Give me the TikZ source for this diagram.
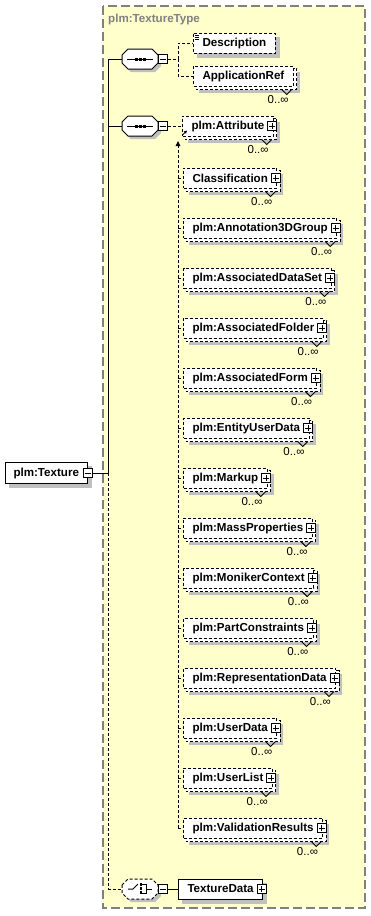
\documentclass[tikz,border=0pt]{standalone}
\usepackage{fontspec}
\setmainfont{Liberation Sans}
\usetikzlibrary{calc,arrows.meta}
\pgfdeclarelayer{yl}\pgfdeclarelayer{sh}\pgfdeclarelayer{bk}
\pgfsetlayers{yl,sh,bk,main}
\definecolor{ybg}{HTML}{FFFFCC}
\definecolor{shd}{HTML}{C0C0C0}
\definecolor{brd}{HTML}{808080}
\tikzset{
  lw/.style={line width=1pt},
  dsh/.style={dash pattern=on 3pt off 2pt},
  elbox/.style={draw, fill=white, line width=1pt, inner xsep=9pt, inner ysep=0pt,
    minimum height=20pt, anchor=west, font=\fontsize{11.6}{13}\selectfont\bfseries},
  optbox/.style={elbox, dsh},
  pmbox/.style={draw, fill=white, line width=1pt, minimum size=9pt, inner sep=0pt},
  occ/.style={font=\fontsize{11.5}{13}\selectfont, anchor=east, inner sep=0pt},
  octnode/.style={inner sep=0pt, minimum width=36pt, minimum height=20pt},
}
% plus / minus icons
\newcommand\plusicon[2]{% name, position
  \node[pmbox] (#1) at (#2) {};
  \draw[line width=1pt] ($(#1.center)+(-3,0)$) -- ($(#1.center)+(3,0)$)
                          ($(#1.center)+(0,-3)$) -- ($(#1.center)+(0,3)$);
}
\newcommand\minusicon[2]{%
  \node[pmbox] (#1) at (#2) {};
  \draw[line width=1pt] ($(#1.center)+(-3,0)$) -- ($(#1.center)+(3,0)$);
}
% multiple (0..unbounded) element
\newcommand\multiel[4]{% name, x, y, text
  \node[optbox] (#1) at (#2,#3) {#4};
  \begin{pgfonlayer}{bk}
    \draw[lw, dsh, fill=white] ($(#1.north west)+(3,3)$) rectangle ($(#1.south east)+(3,3)$);
    \draw[line width=0.9pt] ($(#1.south east)+(-12,3)$) -- ++(5,5) -- ++(5,-5);
  \end{pgfonlayer}
  \begin{pgfonlayer}{sh}
    \fill[shd] ($(#1.north west)+(6,6)$) rectangle ($(#1.south east)+(6,6)$);
  \end{pgfonlayer}
  \node[occ] at ($(#1.east)+(-5,24)$) {0..∞};
}
\newcommand\refel[3]{% name, y, text
  \multiel{#1}{183}{#2}{#3\hspace{6pt}}
  \plusicon{#1p}{$(#1.east)+(-1.5,0)$}
  \draw[lw, dsh] (j2b |- #1.west) -- (#1.west);
}
\newcommand\octshape[3]{% cx, cy, style
  \begin{pgfonlayer}{sh}
    \fill[shd] ({#1-15},{#2-1}) -- ++(6,-6) -- ++(24,0) -- ++(6,6) -- ++(0,8)
      -- ++(-6,6) -- ++(-24,0) -- ++(-6,-6) -- cycle;
  \end{pgfonlayer}
  \draw[lw, fill=white, #3] ({#1-18},{#2-4}) -- ++(6,-6) -- ++(24,0) -- ++(6,6) -- ++(0,8)
      -- ++(-6,6) -- ++(-24,0) -- ++(-6,-6) -- cycle;
}
\begin{document}
\begin{tikzpicture}[x=1pt,y=-1pt]
\useasboundingbox (0,0) rectangle (371,916);
% complex type area
\begin{pgfonlayer}{yl}
  \draw[brd, fill=ybg, line width=1.2pt, dash pattern=on 9pt off 4pt] (103,6) rectangle (365,908);
\end{pgfonlayer}
\node[anchor=west, text=brd, font=\fontsize{11.6}{13}\selectfont\bfseries, inner sep=0pt] (ttl) at (108,19) {plm:TextureType};

% root
\node[elbox, inner xsep=8pt, minimum height=21pt] (root) at (5,473) {plm:Texture\hspace{8pt}};
\begin{pgfonlayer}{sh}
  \fill[shd] ($(root.north west)+(4,4)$) rectangle ($(root.south east)+(4,4)$);
\end{pgfonlayer}
\minusicon{rootm}{root.east}

% bus
\coordinate (busT) at (108,59);
\coordinate (bus2) at (108,126);
\coordinate (busR) at (108,473);
\coordinate (busB) at (108,889);
\draw[lw] (rootm.east) -- (busR);
\draw[lw] (busT) -- (busR);
\draw[lw, dsh] (busR) -- (busB);

% sequence 1
\node[octnode] (s1) at (140,59) {};
\octshape{140}{59}{}
\draw[lw] (127,59) -- (153,59);
\foreach \xx in {136,140,144} \fill ({\xx-1.5},57.5) rectangle ++(3,3);
\minusicon{s1m}{163,59}
\draw[lw] (busT) -- (s1.west);
\coordinate (j1) at (178,59);
\draw[lw, dsh] (s1m.east) -- (j1);

\node[optbox] (desc) at (193,43) {Description};
\begin{pgfonlayer}{sh}
  \fill[shd] ($(desc.north west)+(4,4)$) rectangle ($(desc.south east)+(4,4)$);
\end{pgfonlayer}
\draw[line width=0.8pt] (195,35) -- (199,35) (195,37) -- (199,37) (195,39) -- (199,39);
\multiel{app}{193}{76}{ApplicationRef}
\draw[lw, dsh] (j1) |- (desc.west);
\draw[lw, dsh] (j1) |- (app.west);

% sequence 2
\node[octnode] (s2) at (140,126) {};
\octshape{140}{126}{}
\draw[lw] (127,126) -- (153,126);
\foreach \xx in {136,140,144} \fill ({\xx-1.5},124.5) rectangle ++(3,3);
\minusicon{s2m}{163,126}
\draw[lw] (bus2) -- (s2.west);
\coordinate (j2t) at (178,141);
\coordinate (j2b) at (178,828);
\draw[lw, dsh, -{Triangle[width=4.5pt,length=5pt]}] (j2b) -- (j2t);

\multiel{attr}{182}{126}{plm:Attribute\hspace{4pt}}
\plusicon{attrp}{$(attr.east)+(-1.5,0)$}
\draw[lw, dsh] (s2m.east) -- (attr.west);
\draw[line width=0.9pt, -{Triangle[width=3pt,length=3pt]}] ($(attr.south west)+(1,-2)$) -- ++(4,-4);

\refel{cls}{178}{Classification}
\refel{ann}{228}{plm:Annotation3DGroup}
\refel{ads}{278}{plm:AssociatedDataSet}
\refel{afd}{328}{plm:AssociatedFolder}
\refel{afm}{378}{plm:AssociatedForm}
\refel{eud}{428}{plm:EntityUserData}
\refel{mku}{478}{plm:Markup}
\refel{msp}{528}{plm:MassProperties}
\refel{mnc}{578}{plm:MonikerContext}
\refel{ptc}{628}{plm:PartConstraints}
\refel{rpd}{678}{plm:RepresentationData}
\refel{usd}{728}{plm:UserData}
\refel{usl}{778}{plm:UserList}
\refel{vlr}{828}{plm:ValidationResults}

% choice
\node[octnode] (ch) at (140,889) {};
\octshape{140}{889}{dsh}
\draw[line width=1pt] (128,889) -- (133,889) -- (138,884);
\foreach \yy in {884.5,888.5,892.5} \fill (139.5,{\yy-1.3}) rectangle ++(2.6,2.6);
\draw[line width=1pt] (142,884.5) -- (146,884.5) -- (146,893) -- (142,893);
\draw[line width=1pt] (146,889) -- (152,889);
\minusicon{chm}{163,889}
\draw[lw, dsh] (busB) -- (ch.west);

\node[elbox] (td) at (178,889) {TextureData\hspace{6pt}};
\begin{pgfonlayer}{sh}
  \fill[shd] ($(td.north west)+(4,4)$) rectangle ($(td.south east)+(4,4)$);
\end{pgfonlayer}
\plusicon{tdp}{$(td.east)+(-1.5,0)$}
\draw[lw] (chm.east) -- (td.west);
\end{tikzpicture}
\end{document}
